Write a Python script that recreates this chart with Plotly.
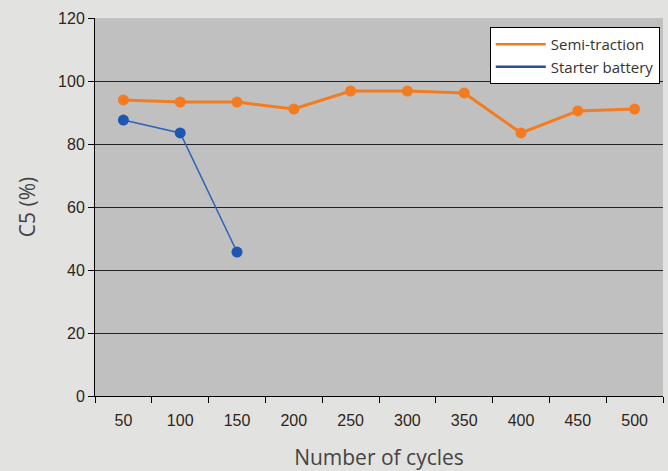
import plotly.graph_objects as go

cycles = ["50", "100", "150", "200", "250", "300", "350", "400", "450", "500"]
semi_traction = [94.0, 93.3, 93.3, 91.1, 96.8, 96.8, 96.2, 83.5, 90.5, 91.1]
starter_cycles = ["50", "100", "150"]
starter_battery = [87.6, 83.5, 45.7]
y_ticks = [0, 20, 40, 60, 80, 100, 120]

orange = "#f47b20"
blue_line = "#2f62b8"
blue_marker = "#1f56b4"
tick_font = dict(family="Liberation Sans", size=16, color="#2e2618")
title_font = dict(family="Open Sans", size=21, color="#444")

fig = go.Figure()
fig.add_trace(go.Scatter(
    x=cycles, y=semi_traction, name="Semi-traction", mode="lines+markers",
    line=dict(color=orange, width=3), marker=dict(color=orange, size=11),
    showlegend=False))
fig.add_trace(go.Scatter(
    x=starter_cycles, y=starter_battery, name="Starter battery", mode="lines+markers",
    line=dict(color=blue_line, width=1.5), marker=dict(color=blue_marker, size=11),
    showlegend=False))
# legend entries (lines only, as in the reference)
fig.add_trace(go.Scatter(x=[None], y=[None], name="Semi-traction", mode="lines",
                         line=dict(color=orange, width=2.5)))
fig.add_trace(go.Scatter(x=[None], y=[None], name="Starter battery", mode="lines",
                         line=dict(color="#2a4f8f", width=2.5)))

fig.update_layout(
    width=668, height=471,
    margin=dict(l=95, r=5, t=18, b=75),
    paper_bgcolor="#e2e2e1", plot_bgcolor="#bfc0bf",
    showlegend=True,
    legend=dict(x=0.695, y=0.976, xanchor="left", yanchor="top",
                bgcolor="white", bordercolor="black", borderwidth=1,
                font=dict(family="Open Sans", size=15, color="#333"),
                tracegroupgap=0, itemwidth=50),
    xaxis=dict(type="category", categoryorder="array", categoryarray=cycles,
               range=[-0.5, 9.5], tickson="boundaries", ticks="outside",
               ticklen=6, tickcolor="black", showline=True, linecolor="black",
               linewidth=1, showgrid=False, mirror=False, automargin=False,
               tickfont=tick_font, ticklabelstandoff=10,
               title=dict(text="Number of cycles", standoff=22, font=title_font)),
    yaxis=dict(range=[0, 120], tickvals=y_ticks, ticks="outside", ticklen=6,
               tickcolor="black", showline=True, linecolor="black", linewidth=1,
               showgrid=True, gridcolor="#222", gridwidth=1, zeroline=False,
               automargin=False, tickfont=tick_font,
               title=dict(text="C5 (%)", standoff=16, font=title_font)),
)
fig.write_html("out.html",
               config={"displayModeBar": False},
               post_script="document.body.style.margin='0';"
                           "document.body.style.overflow='hidden';"
                           "document.body.style.background='#e2e2e1';")
